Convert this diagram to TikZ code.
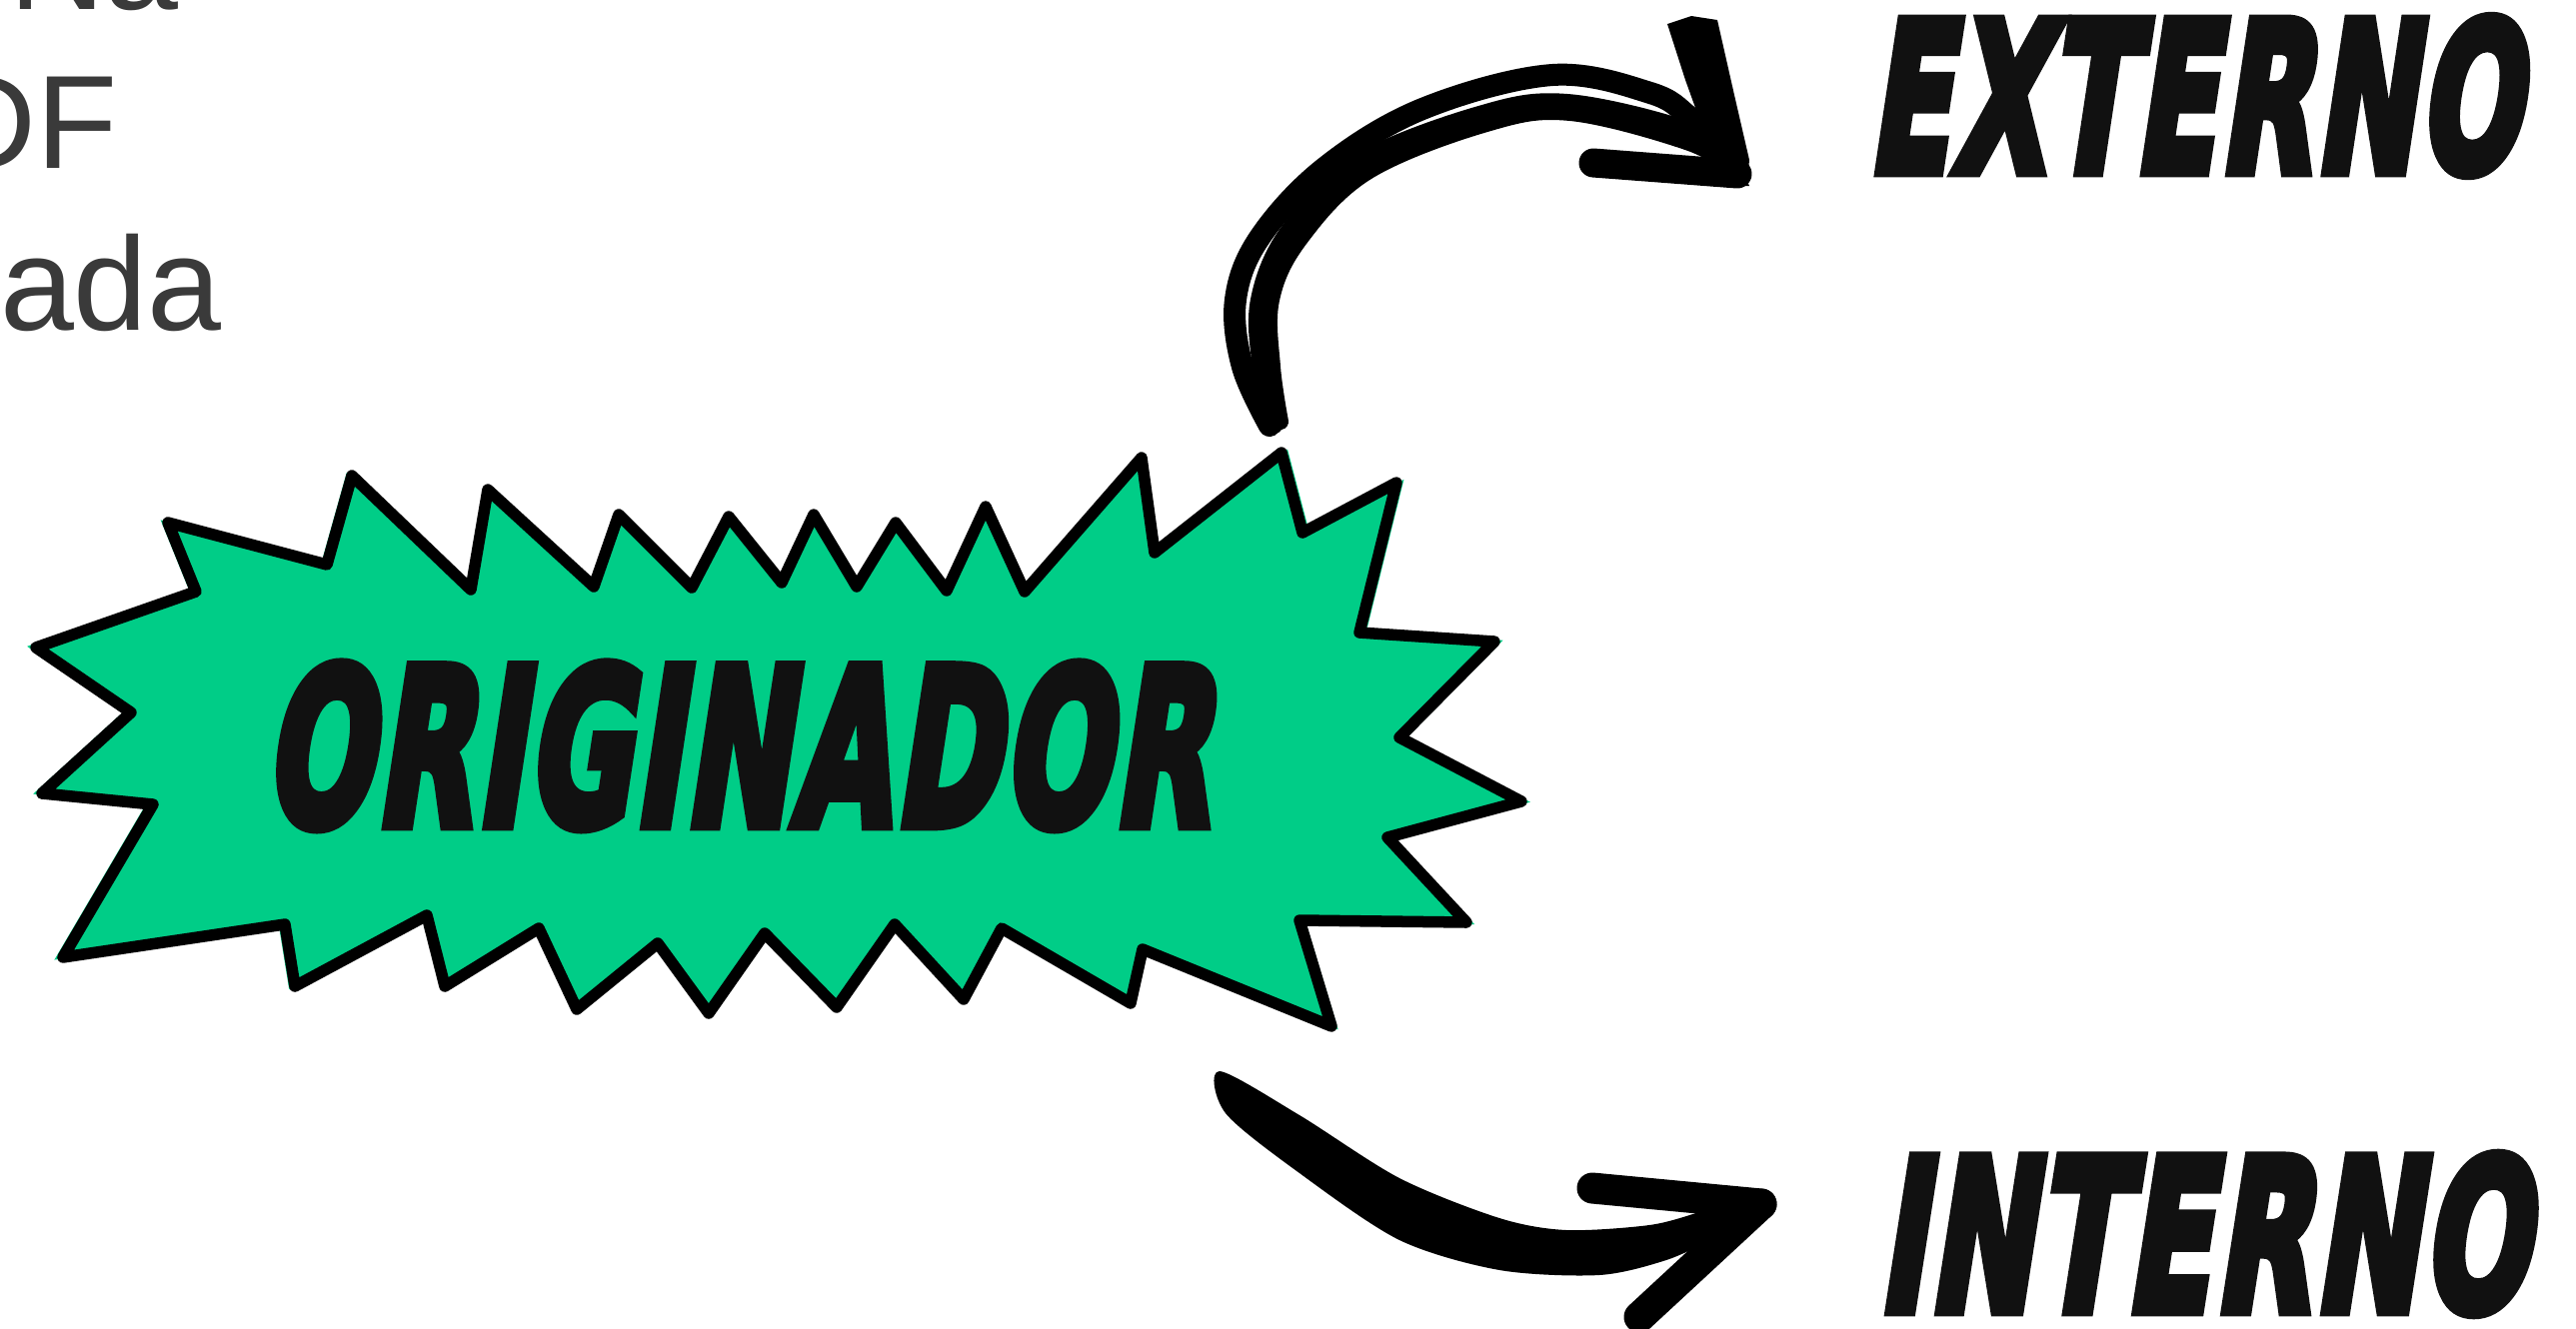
\documentclass[tikz,border=0pt]{standalone}
\usepackage{fontspec}
\usepackage{graphicx}
\newfontfamily\arialf{Liberation Sans}
\newfontfamily\bangf{DejaVu Sans Bold}[FakeSlant=0.26,FakeBold=6,LetterSpace=3]
\definecolor{burstgreen}{RGB}{0,205,135}
\definecolor{inkblack}{RGB}{17,17,17}
\definecolor{txtgray}{RGB}{58,58,58}
\newcommand\bangtext[3]{\resizebox{#1}{#2}{\bangf #3}}
\begin{document}
\begin{tikzpicture}[x=0.01cm,y=-0.01cm,
  strand/.style={draw=black, line cap=round, line join=round},
  headstroke/.style={draw=black, line width=0.31cm, line cap=round},
  burstline/.style={draw=black, line width=0.115cm, line join=round},
  bangnode/.style={inner sep=0pt, outer sep=0pt, text=inkblack, anchor=south west},
  frag/.style={inner sep=0pt, outer sep=0pt, text=txtgray, font=\arialf\fontsize{37.8pt}{45pt}\selectfont}]
\useasboundingbox (0,0) rectangle (2577,1329);
\clip (0,0) rectangle (2577,1329);
\fill[white] (0,0) rectangle (2577,1329);

% cut-off text fragments, top left
\node[frag, anchor=base west] (t1) at (9,9) {Na};
\node[frag, anchor=base east] (t2) at (118,168) {DF};
\node[frag, anchor=base west] (t3) at (0,330) {ada};

% starburst: green fill (slightly larger) and black outline
\begin{scope}[shift={(780,745)}, scale=1.012, shift={(-780,-745)}]
\fill[burstgreen] (168,523) -- (327,565) -- (352,476) -- (471,590) -- (488,490) -- (594,587) -- (619,515) -- (692,588) -- (729,517) -- (782,583) -- (814,515) -- (857,587) -- (896,523) -- (947,591) -- (986,507) -- (1025,592) -- (1142,458) -- (1155,553) -- (1282,453) -- (1303,533) -- (1397,483) -- (1360,633) -- (1495,642) -- (1400,738) -- (1522,802) -- (1388,838) -- (1467,923) -- (1300,921) -- (1332,1027) -- (1143,950) -- (1131,1004) -- (1002,929) -- (964,1000) -- (895,925) -- (837,1008) -- (765,934) -- (709,1014) -- (658,944) -- (577,1010) -- (539,929) -- (445,987) -- (427,916) -- (295,987) -- (285,925) -- (63,958) -- (153,805) -- (42,794) -- (131,713) -- (36,648) -- (196,592) -- cycle;
\end{scope}
\path[burstline] (168,523) -- (327,565) -- (352,476) -- (471,590) -- (488,490) -- (594,587) -- (619,515) -- (692,588) -- (729,517) -- (782,583) -- (814,515) -- (857,587) -- (896,523) -- (947,591) -- (986,507) -- (1025,592) -- (1142,458) -- (1155,553) -- (1282,453) -- (1303,533) -- (1397,483) -- (1360,633) -- (1495,642) -- (1400,738) -- (1522,802) -- (1388,838) -- (1467,923) -- (1300,921) -- (1332,1027) -- (1143,950) -- (1131,1004) -- (1002,929) -- (964,1000) -- (895,925) -- (837,1008) -- (765,934) -- (709,1014) -- (658,944) -- (577,1010) -- (539,929) -- (445,987) -- (427,916) -- (295,987) -- (285,925) -- (63,958) -- (153,805) -- (42,794) -- (131,713) -- (36,648) -- (196,592) -- cycle;

% labels
\node[bangnode] (orig) at (264,828) {\bangtext{9.45cm}{1.60cm}{ORIGINADOR}};
\node[bangnode] (ext) at (1868,174) {\bangtext{6.52cm}{1.53cm}{EXTERNO}};
\node[bangnode] (int) at (1878,1314) {\bangtext{6.50cm}{1.55cm}{INTERNO}};

% upper arrow (to EXTERNO)
\coordinate (upstart) at (1270,426);
\coordinate (uptip) at (1748,182);
\draw[strand, line width=0.22cm] plot[smooth, tension=0.6] coordinates {(upstart) (1243,367) (1236,300) (1260,238) (1325,168) (1423,109) (1553,75) (1651,93) (1690,117) (1725,152)};
\draw[strand, line width=0.16cm] plot[smooth, tension=0.6] coordinates {(1275,426) (1261,367) (1259,300) (1288,232) (1357,163) (1480,114) (1568,102) (1690,130) (1730,160)};
\draw[strand, line width=0.16cm] plot[smooth, tension=0.6] coordinates {(1281,422) (1273,367) (1272,300) (1300,240) (1368,172) (1487,124) (1571,113) (1690,143) (1735,170)};
\fill[black] (1668,24) -- (1692,16) -- (1718,20) -- (1735,95) -- (1750,160) -- (uptip) -- (1750,186) -- (1722,186) -- (1704,130) -- (1686,80) -- cycle;
\draw[headstroke, line width=0.29cm] (1594,163) -- (1738,174);

% lower arrow (to INTERNO)
\coordinate (lowstart) at (1220,1072);
\coordinate (lowtip) at (1762,1205);
\fill[black] plot[smooth cycle, tension=0.5] coordinates {(lowstart) (1300,1116) (1400,1179) (1500,1219) (1567,1231) (1650,1226) (1700,1213) (1750,1196) (1754,1222) (1716,1239) (1667,1261) (1600,1276) (1500,1271) (1400,1241) (1300,1174) (1226,1114)};
\draw[headstroke] (1593,1189) -- (lowtip);
\draw[headstroke] (lowtip) -- (1640,1318);
\end{tikzpicture}
\end{document}
